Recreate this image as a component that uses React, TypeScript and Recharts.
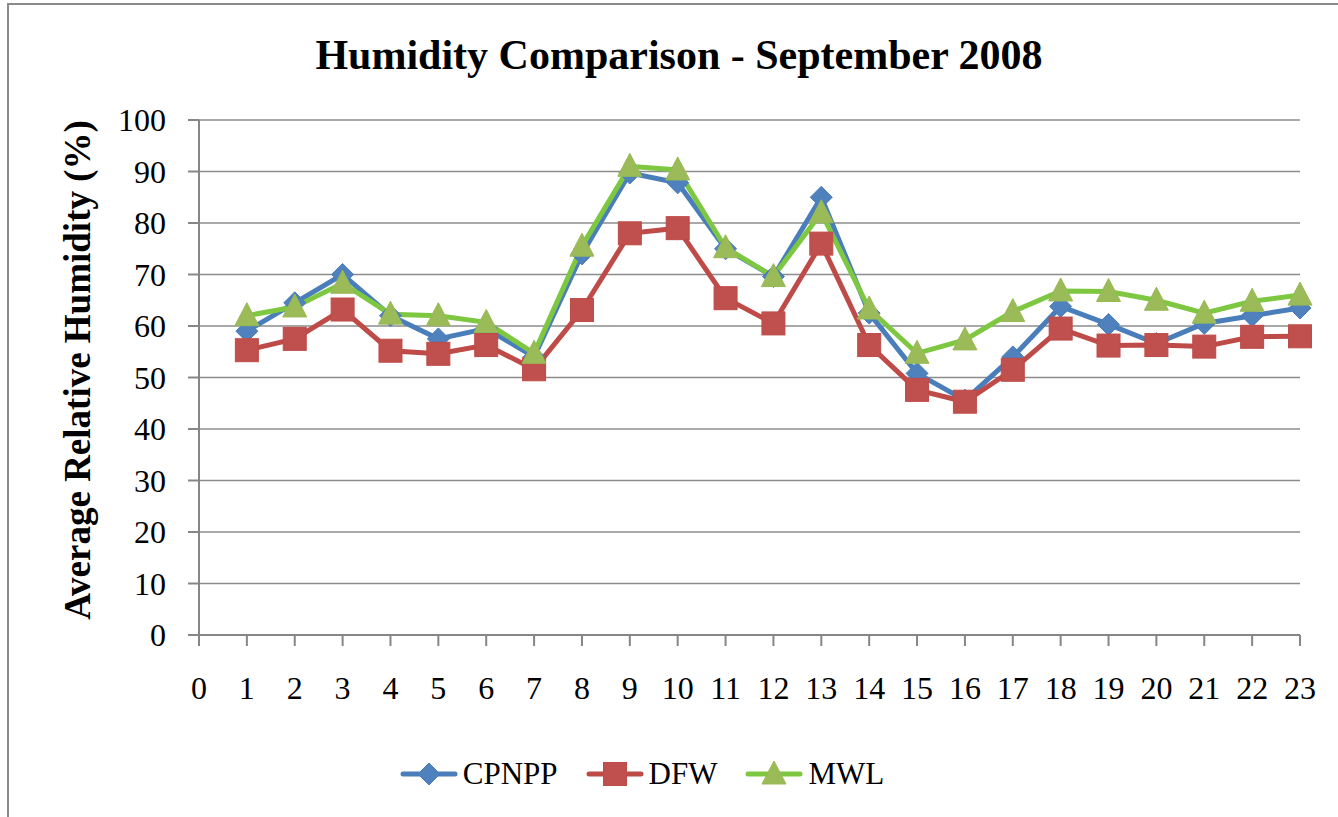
import React from "react";
import {
  LineChart,
  Line,
  XAxis,
  YAxis,
  CartesianGrid,
} from "recharts";

const days = [1, 2, 3, 4, 5, 6, 7, 8, 9, 10, 11, 12, 13, 14, 15, 16, 17, 18, 19, 20, 21, 22, 23];
const cpnpp = [59, 64.5, 70, 62, 57.5, 59.5, 54, 74, 89.7, 87.8, 75, 69.6, 85, 62.5, 50.8, 45.6, 54, 63.8, 60.3, 56.6, 60.5, 62, 63.5];
const dfw = [55.3, 57.5, 63.2, 55.2, 54.6, 56.3, 51.6, 63.1, 78, 79, 65.4, 60.5, 76, 56.3, 47.6, 45.3, 51.5, 59.5, 56.2, 56.3, 56, 57.9, 58];
const mwl = [62, 63.7, 68.3, 62.3, 62, 60.7, 54.7, 75.5, 91, 90.3, 75.2, 69.6, 82, 63.3, 54.7, 57.3, 62.8, 66.8, 66.7, 65, 62.5, 64.8, 66];
const xTicks = [0, 1, 2, 3, 4, 5, 6, 7, 8, 9, 10, 11, 12, 13, 14, 15, 16, 17, 18, 19, 20, 21, 22, 23];
const yTicks = [0, 10, 20, 30, 40, 50, 60, 70, 80, 90, 100];

const chartData = days.map((d, i) => ({
  day: d,
  CPNPP: cpnpp[i],
  DFW: dfw[i],
  MWL: mwl[i],
}));

const serif = "'Liberation Serif', 'Times New Roman', serif";
const axisGray = "#868686";

const Diamond = (props: any) => {
  const { cx, cy } = props;
  if (cx == null || cy == null) return null;
  return <path d={`M${cx},${cy - 11}L${cx + 11},${cy}L${cx},${cy + 11}L${cx - 11},${cy}Z`} fill="#4F81BD" stroke="#4A7EBB" strokeWidth={1} />;
};

const Square = (props: any) => {
  const { cx, cy } = props;
  if (cx == null || cy == null) return null;
  return <rect x={cx - 11.5} y={cy - 11.5} width={23} height={23} fill="#C0504D" stroke="#BE4B48" strokeWidth={1} />;
};

const Triangle = (props: any) => {
  const { cx, cy } = props;
  if (cx == null || cy == null) return null;
  return <path d={`M${cx},${cy - 13}L${cx + 12},${cy + 10}L${cx - 12},${cy + 10}Z`} fill="#9BBB59" stroke="#98B954" strokeWidth={1} />;
};

const legendItems = [
  { name: "CPNPP", line: "#4A7EBB", Icon: Diamond },
  { name: "DFW", line: "#BE4B48", Icon: Square },
  { name: "MWL", line: "#7DC840", Icon: Triangle },
];

const App: React.FC = () => {
  return (
    <div
      style={{
        position: "absolute",
        left: 0,
        top: 0,
        width: 1338,
        height: 817,
        background: "#fff",
        overflow: "hidden",
      }}
    >
      <div
        style={{
          position: "absolute",
          left: 7,
          top: 3,
          width: 1400,
          height: 900,
          border: "2px solid #8a8a8a",
        }}
      />
      <div
        style={{
          position: "absolute",
          left: 0,
          width: 1358,
          top: 34,
          textAlign: "center",
          fontFamily: serif,
          fontWeight: "bold",
          fontSize: 42,
          lineHeight: "42px",
          whiteSpace: "nowrap",
        }}
      >
        Humidity Comparison - September 2008
      </div>
      <div
        style={{
          position: "absolute",
          left: 77,
          top: 370,
          transform: "translate(-50%, -50%) rotate(-90deg)",
          whiteSpace: "nowrap",
          fontFamily: serif,
          fontWeight: "bold",
          fontSize: 37,
        }}
      >
        Average Relative Humidity (%)
      </div>
      <LineChart
        width={1338}
        height={817}
        data={chartData}
        margin={{ top: 120, right: 38, bottom: 122, left: 0 }}
        style={{ position: "absolute", left: 0, top: 0 }}
      >
        <CartesianGrid vertical={false} stroke="#8c8c8c" strokeWidth={1.5} />
        <XAxis
          dataKey="day"
          type="number"
          domain={[0, 23]}
          ticks={xTicks}
          interval={0}
          height={60}
          stroke={axisGray}
          strokeWidth={2}
          tickSize={11}
          tickMargin={30}
          tick={{ fill: "#000", fontSize: 32, fontFamily: serif }}
        />
        <YAxis
          type="number"
          domain={[0, 100]}
          ticks={yTicks}
          width={199}
          stroke={axisGray}
          strokeWidth={2}
          tickSize={11}
          tickMargin={22}
          tick={{ fill: "#000", fontSize: 32, fontFamily: serif }}
        />
        <Line
          dataKey="CPNPP"
          stroke="#4A7EBB"
          strokeWidth={5}
          dot={<Diamond />}
          activeDot={false}
          isAnimationActive={false}
        />
        <Line
          dataKey="DFW"
          stroke="#BE4B48"
          strokeWidth={5}
          dot={<Square />}
          activeDot={false}
          isAnimationActive={false}
        />
        <Line
          dataKey="MWL"
          stroke="#7DC840"
          strokeWidth={5}
          dot={<Triangle />}
          activeDot={false}
          isAnimationActive={false}
        />
      </LineChart>
      <div
        style={{
          position: "absolute",
          left: 0,
          width: 1284,
          top: 754,
          display: "flex",
          justifyContent: "center",
          alignItems: "center",
          gap: 28,
          fontFamily: serif,
          fontSize: 31,
        }}
      >
        {legendItems.map(({ name, line, Icon }) => (
          <div key={name} style={{ display: "flex", alignItems: "center" }}>
            <svg width={58} height={40}>
              <line x1={3} y1={20} x2={55} y2={20} stroke={line} strokeWidth={5} strokeLinecap="round" />
              <Icon cx={29} cy={20} />
            </svg>
            <span style={{ marginLeft: 5 }}>{name}</span>
          </div>
        ))}
      </div>
    </div>
  );
};

export default App;
